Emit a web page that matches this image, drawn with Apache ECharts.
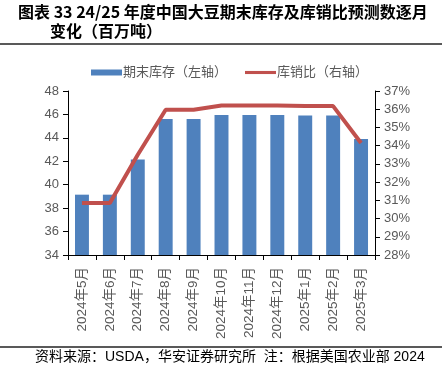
<!DOCTYPE html>
<html><head><meta charset="utf-8">
<script src="https://cdn.jsdelivr.net/npm/echarts@6/dist/echarts.min.js"></script>
<style>html,body{margin:0;padding:0;background:#fff}#c{width:442px;height:373px}</style>
</head><body><div id="c"></div>
<script>
const categories = ['2024年5月','2024年6月','2024年7月','2024年8月','2024年9月','2024年10月','2024年11月','2024年12月','2025年1月','2025年2月','2025年3月'];
const stocks = [39.15, 39.15, 42.15, 45.6, 45.6, 45.95, 45.95, 45.95, 45.9, 45.9, 43.9];
const ratio = [30.85, 30.85, 33.5, 35.97, 35.97, 36.2, 36.2, 36.2, 36.17, 36.17, 34.15];
const leftTicks = {min: 34, max: 48, interval: 2};
const rightTicks = {min: 28, max: 37, interval: 1};
const ff = '"Liberation Sans", "Noto Sans CJK SC", sans-serif';
const chart = echarts.init(document.getElementById('c'));
chart.setOption({
  animation: false,
  textStyle: {fontFamily: ff},
  legend: {
    top: 61, left: 86, itemGap: 18, itemWidth: 31, itemHeight: 6,
    textStyle: {color: '#595959', fontSize: 13, fontFamily: ff, padding: [0,0,0,-4]},
    data: [{name: '期末库存（左轴）', icon: 'rect'}, {name: '库销比（右轴）', icon: 'path://M0,0 L10,0 L10,1 L0,1 Z'}]
  },
  grid: {left: 68, right: 67, top: 91, bottom: 118},
  xAxis: {
    type: 'category', data: categories, boundaryGap: true,
    axisLine: {lineStyle: {color: '#000', width: 1}},
    axisTick: {show: true, inside: false, length: 5, lineStyle: {color: '#000'}},
    axisLabel: {rotate: 90, color: '#595959', fontSize: 13.5, fontFamily: ff, margin: 12, interval: 0}
  },
  yAxis: [
    {type: 'value', min: leftTicks.min, max: leftTicks.max, interval: leftTicks.interval,
     axisLine: {show: true, lineStyle: {color: '#000'}}, axisTick: {show: true, length: 5, lineStyle: {color: '#000'}},
     splitLine: {show: false}, axisLabel: {color: '#595959', fontSize: 13, fontFamily: ff, margin: 9}},
    {type: 'value', min: rightTicks.min, max: rightTicks.max, interval: rightTicks.interval, position: 'right',
     axisLine: {show: true, lineStyle: {color: '#000'}}, axisTick: {show: true, length: 5, lineStyle: {color: '#000'}},
     splitLine: {show: false}, axisLabel: {color: '#595959', fontSize: 13, fontFamily: ff, margin: 9, formatter: '{value}%'}}
  ],
  series: [
    {name: '期末库存（左轴）', type: 'bar', data: stocks, yAxisIndex: 0, barWidth: '50%', itemStyle: {color: '#4F81BD'}},
    {name: '库销比（右轴）', type: 'line', data: ratio, yAxisIndex: 1, symbol: 'none', lineStyle: {color: '#C0504D', width: 4}, itemStyle: {color: '#C0504D'}}
  ],
  graphic: [
    {type: 'text', left: 18, top: 4, style: {text: '图表 33 24/25 年度中国大豆期末库存及库销比预测数逐月', font: 'bold 16px "Noto Sans CJK SC", sans-serif', fill: '#000'}},
    {type: 'text', left: 50, top: 23, style: {text: '变化（百万吨）', font: 'bold 16px "Noto Sans CJK SC", sans-serif', fill: '#000'}},
    {type: 'line', shape: {x1: 0, y1: 44, x2: 442, y2: 44}, style: {stroke: '#222', lineWidth: 1.5}},
    {type: 'line', shape: {x1: 0, y1: 347, x2: 442, y2: 347}, style: {stroke: '#222', lineWidth: 1.5}},
    {type: 'text', left: 35, top: 350, style: {text: '资料来源：USDA，华安证券研究所  注：根据美国农业部 2024', font: '14px "Liberation Sans", "Noto Sans CJK SC", sans-serif', fill: '#000'}}
  ]
});
</script></body></html>
